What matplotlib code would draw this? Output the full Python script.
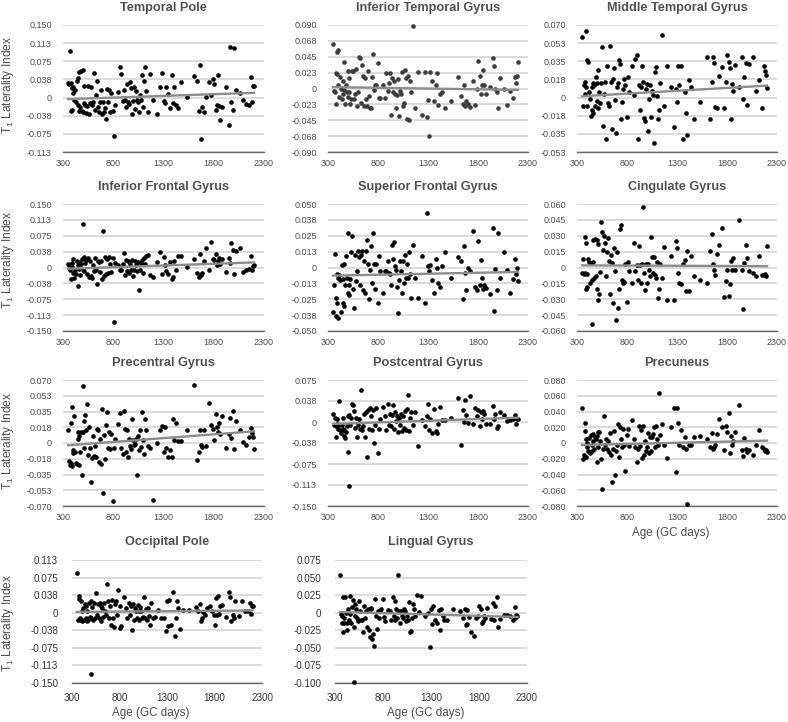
import matplotlib
matplotlib.use("Agg")
import matplotlib.pyplot as plt
import numpy as np

plt.rcParams["font.family"] = ["Liberation Sans", "DejaVu Sans"]
plt.rcParams["mathtext.default"] = "regular"

# ages shared by all panels, laterality values below line up row by row (units of 0.001)
age = [350, 360, 370, 375, 380, 385, 390, 395, 400, 410,
       420, 430, 440, 445, 450, 455, 460, 470, 480, 490,
       495, 500, 505, 510, 520, 530, 540, 550, 560, 570,
       580, 590, 600, 610, 620, 630, 640, 650, 660, 670,
       680, 690, 700, 710, 720, 730, 740, 750, 760, 770,
       780, 800, 810, 820, 850, 870, 880, 900, 910, 920,
       930, 940, 950, 960, 970, 980, 990, 1000, 1010, 1020,
       1030, 1040, 1050, 1060, 1070, 1080, 1090, 1100, 1110, 1120,
       1130, 1150, 1170, 1200, 1240, 1270, 1290, 1300, 1310, 1320,
       1340, 1360, 1380, 1390, 1400, 1420, 1440, 1470, 1530, 1600,
       1630, 1650, 1660, 1670, 1680, 1700, 1720, 1750, 1770, 1790,
       1800, 1820, 1830, 1840, 1850, 1860, 1880, 1920, 1950, 1960,
       1970, 1990, 2000, 2020, 2060, 2090, 2120, 2150, 2170, 2180,
       2190, 2200]

temporal_pole = [30, 28, 96, -29, 30, -27, 20, 22, 10, -5,
                 15, -10, 35, 40, -15, 52, -28, -20, 55, -28,
                 57, -30, -12, 24, -15, -32, -18, 24, -34, -12,
                 22, -15, -10, 50, -25, 5, 35, -20, -30, -10,
                 15, -35, -10, -30, -22, -45, 17, -10, 15, -30,
                 10, -28, -80, -15, 12, 62, 49, -8, 15, -5,
                 -20, 28, -10, -14, 32, 20, -35, -8, 22, -24,
                 13, -6, -10, -30, 5, -5, 47, -20, 33, 62,
                 14, -30, 49, -5, -35, 21, 50, -8, -12, 22,
                 8, -22, 47, -12, 22, -15, -22, 31, 1, 45,
                 34, -28, 68, -86, -20, -30, 0, 32, 6, 38,
                 28, -25, -15, 47, -18, -46, -20, 22, -57, 104,
                 -10, -25, 102, 16, 10, -5, -14, -15, 42, -10,
                 24, 24]
inferior_temporal = [63, -3, -5, 22, -22, 20, 52, 55, 5, -12,
                     17, 0, -15, 10, -8, 38, -2, -22, 5, -5,
                     -12, 25, -5, 15, -22, -15, 25, 25, -15, -8,
                     27, -25, -5, 45, 43, -20, 34, 18, -25, 15,
                     -15, -25, 25, -10, -27, -27, 17, 49, -2, 5,
                     5, 36, -13, -14, 5, -13, 22, -3, 8, 22,
                     -38, 15, -5, 10, -8, -27, -9, 13, -39, -3,
                     -8, 24, -25, -20, 26, 15, -43, 18, -44, 10,
                     -5, 89, -27, 23, -37, 23, -40, -17, -68, 23,
                     10, -18, 5, 22, -24, -8, -5, -27, -18, 16,
                     -10, -22, 5, -25, -18, -22, -26, 10, -24, 0,
                     39, 18, -8, 5, 26, 5, -8, 2, 43, 32,
                     0, -5, -27, 15, 0, -24, -3, -13, 16, 8,
                     18, 38]
middle_temporal = [58, -8, 12, 3, 15, 64, 10, -8, 36, 34,
                   5, -2, -18, 10, -12, 14, -15, 12, -8, 20,
                   -4, 14, 26, -10, 5, -6, 14, 49, -28, 3,
                   15, -40, 30, -6, -8, 50, 15, -31, 18, 28,
                   -3, -35, 10, 14, 36, 32, -21, -5, 8, 18,
                   12, -19, 20, 5, 30, 2, 37, 41, -40, 12,
                   -12, 10, 30, 15, -20, -23, 8, 13, -33, -2,
                   12, -19, 6, 2, -44, 24, 29, 1, -21, -12,
                   14, 60, -8, 30, 10, -29, 8, -5, 30, 12,
                   30, -40, 5, -15, -37, 17, 10, -21, -5, 39,
                   -21, 15, 39, 33, -9, -10, 21, 29, -10, 15,
                   41, 34, 28, -21, 13, 6, 31, 10, 39, -2,
                   20, 33, -7, 32, 39, 6, 17, -10, 30, 25,
                   22, 9]
inferior_frontal = [8, 5, -5, 7, -28, 10, 2, 20, -12, -25,
                    -5, -15, 15, 5, -43, -3, 12, -18, 8, 20,
                    -5, 102, 25, -8, 10, 18, -15, 22, -22, 15,
                    -20, -25, 5, -8, 22, -5, -38, 15, 12, -10,
                    15, -28, 86, -20, 25, -15, 20, -12, 25, 8,
                    -10, 22, -128, 10, 5, -5, -5, 8, 34, -18,
                    18, -8, 15, -12, 8, -5, 18, -20, -5, 15,
                    5, -8, 12, -52, -5, 10, 18, -12, 22, 8,
                    28, 30, -18, -23, 12, 37, -15, 25, 5, -8,
                    -15, 12, -26, -22, 15, -5, 26, 26, 1, 20,
                    -12, -22, 33, -18, -14, 15, 45, -5, 60, 20,
                    18, 33, 5, 15, 22, 8, 20, -11, 22, 10,
                    57, 41, -15, 38, 45, -10, -7, -3, 26, -5,
                    3, 6]
superior_frontal = [-35, -14, 11, -24, -38, -28, -5, -8, -40, -6,
                    -10, -35, 2, -9, -28, 3, -30, -14, 9, -8,
                    -20, 27, -14, -22, -9, 12, 25, -17, -32, 10,
                    -11, -3, 13, 8, -14, 10, 13, -18, 5, -20,
                    13, 22, 3, -25, -2, 17, -12, 27, 3, -17,
                    3, -28, 9, -3, -20, -3, -3, 5, -4, -5,
                    -14, 18, 7, 20, 1, -2, -15, -36, -10, 5,
                    -3, -20, 5, -12, 10, -8, 3, -8, 12, -5,
                    -24, 18, -8, -24, 9, -28, 43, 1, -3, 2,
                    -10, -20, 7, 0, -12, -15, 1, 12, -8, 8,
                    5, -25, 17, -4, -18, 0, -3, 29, -15, -18,
                    21, -14, 6, -8, -17, -14, -16, -21, 31, -34,
                    -1, -18, 27, -8, 12, -2, -20, -9, 7, -5,
                    0, -11]
cingulate = [-5, 8, -6, 29, -5, -20, 23, -18, -6, 8,
             5, -15, 4, -53, -12, 26, 5, -10, 27, -8,
             26, -20, -31, 22, -25, -4, 43, 34, 17, 30,
             23, -8, 15, 28, 6, -25, 12, 4, -34, 18,
             -3, -50, 15, -38, -20, 36, 40, -12, -15, -14,
             3, -33, 5, -3, -15, 23, -3, 2, -12, 20,
             2, -15, 3, 57, -5, -21, 3, -15, 3, -2,
             -8, 29, 10, -5, 10, -7, -10, 5, -29, -20,
             3, -10, 19, -31, 11, -31, 25, 18, -5, -15,
             -16, 3, 7, -22, 16, -22, 11, -8, -12, -15,
             16, 32, 3, -2, -7, 13, 21, 37, -28, -13,
             -2, -27, -16, 6, -2, 9, -2, 45, -2, -39,
             4, 21, 9, -3, -5, -8, 11, -7, -7, -6,
             -8, 20]
precentral = [14, -20, -24, 22, -22, 40, -25, -8, -11, 30,
              -10, -22, -23, 5, 12, -24, 8, -10, 12, -35,
              12, 63, 24, -5, 31, 15, 43, -13, 18, -5,
              -43, -17, 8, -14, -3, -15, 16, 15, -21, 4,
              -23, 38, -55, 9, -18, 20, 34, -5, 12, -7,
              10, -64, -5, 5, 21, 33, -6, -12, 36, 16,
              -10, 15, -15, 5, -3, -7, 27, 3, -2, -1,
              5, -36, 8, -8, 15, -4, 34, 3, -12, 27,
              14, -3, -6, -63, 0, 15, 19, -10, 18, -5,
              -15, -8, -16, 27, 3, 22, 2, 2, 14, 64,
              -19, -10, 15, -2, -4, 14, -3, 45, 20, 16,
              3, 32, 18, 12, 22, 10, 30, -6, 10, 28,
              6, 36, -7, 24, 14, 1, -2, 7, 17, 11,
              7, -7]
postcentral = [14, -5, 8, -8, -26, -3, 5, -12, -8, 38,
               -15, -20, -5, -12, 8, -25, -14, -29, -18, -8,
               -53, 10, -114, 12, -5, 8, 33, 30, 20, -10,
               8, -27, -5, 6, -12, 57, -15, -8, 15, -26,
               18, -63, 22, -12, 25, 10, -14, 22, -38, -5,
               25, -56, -12, 5, 27, 10, -14, 32, -6, 15,
               -8, 12, 30, -12, 18, 2, 10, -18, 8, -5,
               15, -16, 10, -10, 20, -15, 24, 48, -16, 8,
               17, -5, 17, -42, 3, -8, 10, 32, -15, 5,
               -20, 23, -16, -20, -4, 27, 3, 3, 7, 43,
               -41, 22, 0, 40, 12, -2, 47, -4, 25, 10,
               22, -8, 18, 5, 20, 15, -3, -3, 28, 5,
               15, -11, -7, 17, 13, 2, 3, 5, 13, -3,
               5, 5]
precuneus = [44, -20, -15, 25, 15, 5, -18, -5, 0, -10,
             6, -13, 10, -3, -10, 12, 3, -8, 7, 5,
             -24, 9, 14, -5, 14, 3, -20, -58, -8, 34,
             -3, 5, -8, 2, -12, 13, -15, -49, -7, 15,
             -40, -10, -3, 24, -18, 20, 5, -5, 18, -3,
             -35, 10, 18, -4, 29, 5, -5, -24, -8, 22,
             -4, 17, -19, 22, -15, 3, -10, -5, 13, -13,
             8, -10, 7, 12, 20, -5, 22, 5, -3, 64,
             10, 24, -3, -19, 20, 44, -37, 45, 25, -2,
             16, -5, 7, -7, -77, -2, -2, 8, 9, 5,
             -5, 13, -8, -5, -3, 12, 30, 20, -9, 21,
             14, 38, -13, 9, -2, 3, 14, 48, -9, -17,
             6, -8, -12, -9, -15, -3, 17, -5, -8, -10,
             -9, -11]
occipital_pole = [85, -15, 30, 36, -15, -12, 25, -14, -18, 5,
                  10, -15, 18, -10, 15, 5, -18, -15, 22, -8,
                  -131, 25, -10, 12, -15, 20, -12, 43, -5, 18,
                  -12, 22, 15, -18, 10, -8, 20, 5, -5, 61,
                  25, -12, 15, -25, 28, -10, -30, 18, 25, -5,
                  48, -32, 15, -28, 33, 10, -10, 20, -5, 15,
                  -36, 18, -15, 10, 5, -12, 16, 3, -15, 12,
                  5, -12, -8, 33, -10, 8, -15, 10, -6, -25,
                  22, -10, -8, 7, -10, -12, -38, 25, -28, 28,
                  -25, 45, -50, -10, 25, 10, -35, 7, 7, 12,
                  5, 18, -17, -10, 2, -5, 10, 15, 3, -4,
                  -25, 31, -5, 36, -3, 15, 16, -8, 44, 34,
                  -18, -5, -10, 25, -7, 26, 5, 3, 20, -2,
                  15, 14]
lingual = [53, -2, -5, -15, 22, -28, -15, -8, 22, 0,
           -15, -25, 5, -13, -10, -2, 24, -15, 8, 18,
           -99, -21, 12, -5, 5, -8, -12, 16, 2, -10,
           -10, -28, 10, -8, 3, -20, 5, -25, -34, 6,
           5, -38, -30, -47, 20, -5, -23, 3, -8, 2,
           5, 20, -6, -12, 4, 2, -11, 23, -5, 16,
           -10, 5, -8, 54, 3, -14, 2, -4, -8, 5,
           2, -12, -5, -10, 15, -28, -26, -8, 13, 5,
           -5, 25, 1, 24, -5, 0, -49, 5, -16, 10,
           -10, -14, 4, -25, 5, -5, -10, -11, 5, 3,
           -8, 5, -17, -16, 4, -6, -28, -33, -8, -5,
           10, 5, -14, -12, -5, -8, 7, -9, 14, -10,
           9, 23, -21, -9, -3, -3, -4, -10, 8, -8,
           -3, -5]

titles = ["Temporal Pole", "Inferior Temporal Gyrus", "Middle Temporal Gyrus",
          "Inferior Frontal Gyrus", "Superior Frontal Gyrus", "Cingulate Gyrus",
          "Precentral Gyrus", "Postcentral Gyrus", "Precuneus",
          "Occipital Pole", "Lingual Gyrus"]
values = [temporal_pole, inferior_temporal, middle_temporal,
          inferior_frontal, superior_frontal, cingulate,
          precentral, postcentral, precuneus,
          occipital_pole, lingual]
# fitted line at the first and last age
trend_start = [-0.0035, 0.002, 0.001, -0.003, -0.0064, 0.002, -0.0026, -0.0035, -0.0026, 0.002, 0.001]
trend_end = [0.0095, -0.002, 0.0113, 0.012, -0.0035, 0.0013, 0.013, 0.0077, 0.003, 0.005, -0.006]
trend_ages = [350, 2200]
y_labels = [
    ["-0.113", "-0.075", "-0.038", "0", "0.038", "0.075", "0.113", "0.150"],
    ["-0.090", "-0.068", "-0.045", "-0.023", "0", "0.023", "0.045", "0.068", "0.090"],
    ["-0.053", "-0.035", "-0.018", "0", "0.018", "0.035", "0.053", "0.070"],
    ["-0.150", "-0.113", "-0.075", "-0.038", "0", "0.038", "0.075", "0.113", "0.150"],
    ["-0.050", "-0.038", "-0.025", "-0.013", "0", "0.013", "0.025", "0.038", "0.050"],
    ["-0.060", "-0.045", "-0.030", "-0.015", "0", "0.015", "0.030", "0.045", "0.060"],
    ["-0.070", "-0.053", "-0.035", "-0.018", "0", "0.018", "0.035", "0.053", "0.070"],
    ["-0.150", "-0.113", "-0.075", "-0.038", "0", "0.038", "0.075"],
    ["-0.080", "-0.060", "-0.040", "-0.020", "0", "0.020", "0.040", "0.060", "0.080"],
    ["-0.150", "-0.113", "-0.075", "-0.038", "0", "0.038", "0.075", "0.113"],
    ["-0.100", "-0.075", "-0.050", "-0.025", "0", "0.025", "0.050", "0.075"],
]
x_ticks = [300, 800, 1300, 1800, 2300]

W, H = 788, 722
# panel boxes in pixels: left, right, top, bottom
col_x = [(63, 264), (328, 528), (577, 777)]
row_y = [(25, 152), (204, 331), (380, 506), (560, 683)]
boxes = [(col_x[i % 3], row_y[i // 3]) for i in range(9)]
boxes += [((72, 262), row_y[3]), ((335, 527), row_y[3])]
dot_colors = ["#000000", "#3c3c3c"] + ["#000000"] * 9
title_y = [8, 187, 363, 542]
ylabel_y = [85, 260, 441, 623]

fig = plt.figure(figsize=(W / 100, H / 100), dpi=100)
for i, ((x0, x1), (y0, y1)) in enumerate(boxes):
    ax = fig.add_axes([x0 / W, 1 - y1 / H, (x1 - x0) / W, (y1 - y0) / H])
    ticks = np.linspace(float(y_labels[i][0]), float(y_labels[i][-1]), len(y_labels[i]))
    ax.set_xlim(300, 2300)
    ax.set_ylim(ticks[0], ticks[-1])
    ax.set_xticks(x_ticks)
    ax.set_yticks(ticks)
    ax.set_yticklabels(y_labels[i])
    if i < 9:
        ax.tick_params(axis="y", length=0, labelsize=6.5, labelcolor="#4d4d4d", pad=8)
        ax.tick_params(axis="x", length=0, labelsize=6.5, labelcolor="#4d4d4d", pad=5)
    else:
        ax.tick_params(axis="y", length=0, labelsize=7.1, labelcolor="#333333", pad=10)
        ax.tick_params(axis="x", length=0, labelsize=7.1, labelcolor="#333333", pad=7)
    ax.grid(axis="y", color="#d6d6d6", linewidth=1.2)
    ax.set_axisbelow(True)
    for side in ["top", "left", "right"]:
        ax.spines[side].set_visible(False)
    ax.spines["bottom"].set_color("#6a6a6a")
    ax.spines["bottom"].set_linewidth(1.0)
    ax.scatter(age, np.array(values[i]) / 1000, s=11, color=dot_colors[i], linewidths=0, clip_on=False, zorder=3)
    ax.plot(trend_ages, [trend_start[i], trend_end[i]], color="#8c8c8c", linewidth=1.7, zorder=4)
    fig.text((x0 + x1) / 2 / W, 1 - title_y[i // 3] / H, titles[i], ha="center", va="center",
             fontsize=9.2, fontweight="bold", color="#505050")

# y titles on the left column only
for cy in ylabel_y:
    fig.text(8 / W, 1 - cy / H, "T$_1$ Laterality Index", rotation=90, ha="center", va="center",
             fontsize=8.6, color="#4d4d4d")

for cx, cy in [(671, 533), (151, 713), (426, 713)]:
    fig.text(cx / W, 1 - cy / H, "Age (GC days)", ha="center", va="center", fontsize=8.4, color="#4d4d4d")

plt.savefig("out.png", dpi=100)
